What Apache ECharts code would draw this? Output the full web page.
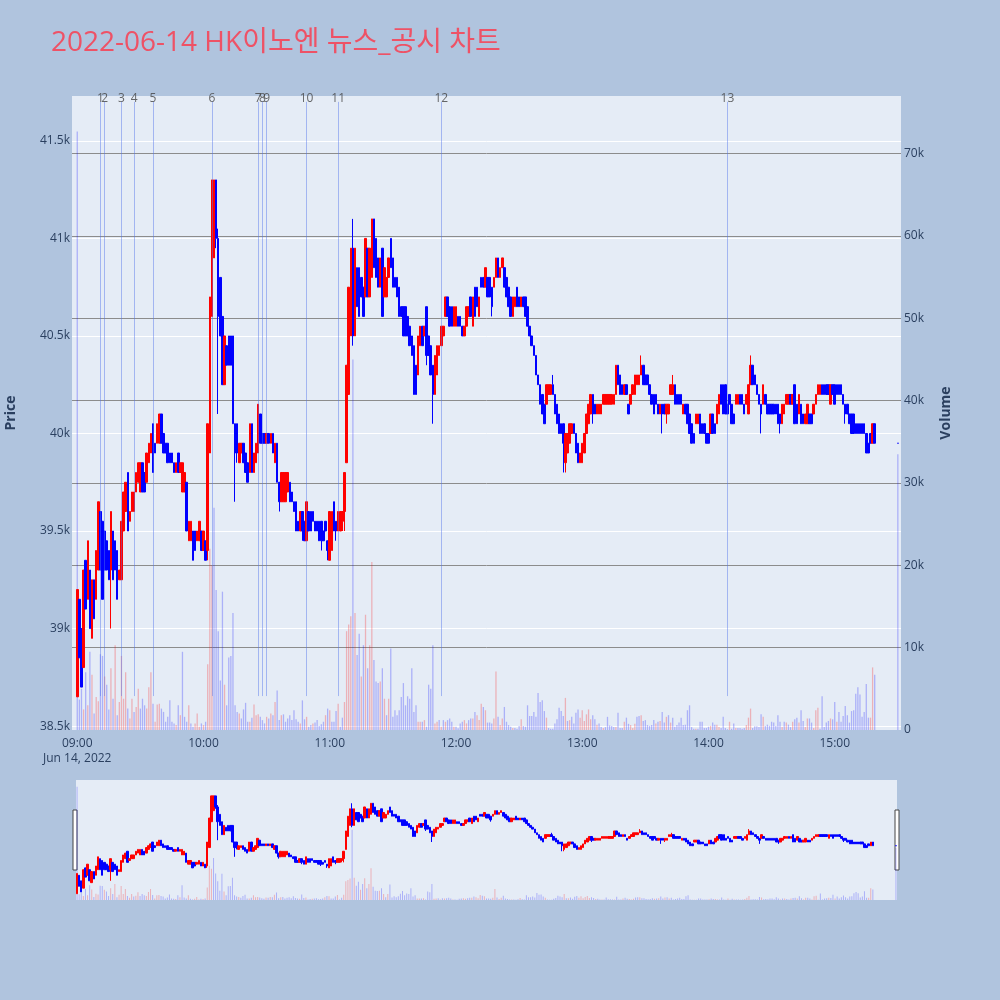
<!DOCTYPE html>
<html>
<head>
<meta charset="utf-8">
<script src="https://cdn.jsdelivr.net/npm/echarts@6/dist/echarts.min.js"></script>
<style>
  html, body { margin: 0; padding: 0; background: #b0c4de; }
  #chart { width: 1000px; height: 1000px; }
</style>
</head>
<body>
<div id="chart"></div>
<script>
const titleText = "2022-06-14 HK이노엔 뉴스_공시 차트";
const hourLabels = ["09:00", "10:00", "11:00", "12:00", "13:00", "14:00", "15:00"];
const dateLabel = "Jun 14, 2022";

// 1-minute candles from 09:00 to 15:19
const opens = [
  38650,39150,39000,38800,39350,39150,39300,38950,39250,39150, 39300,39600,39550,39500,39450,39400,39300,39500,39450,39400,
  39250,39250,39500,39600,39800,39550,39600,39600,39700,39750, 39700,39850,39800,39750,39850,39900,40050,39950,39950,39950,
  40100,40000,39950,39950,39900,39900,39850,39800,39900,39800, 39700,39700,39750,39450,39450,39500,39500,39450,39450,39500,
  39400,39450,39400,39900,40600,40900,41300,41000,40800,40600, 40250,40450,40500,40500,40500,40050,40050,39850,39900,39950,
  39900,39850,39800,40050,39800,39850,39900,40100,40000,40000, 39950,40000,39950,40000,39850,39950,39750,39650,39650,39650,
  39700,39750,39700,39650,39650,39550,39500,39600,39550,39450, 39600,39600,39600,39550,39550,39550,39550,39500,39550,39450,
  39350,39400,39650,39550,39500,39500,39550,39600,39850,40200, 40500,40950,40500,40850,40850,40800,40750,40700,40950,40700,
  40800,41100,41000,40900,40750,40950,40700,40700,40800,41000, 40900,40800,40800,40750,40650,40650,40650,40600,40550,40500,
  40450,40350,40300,40450,40550,40500,40650,40500,40450,40350, 40200,40300,40400,40450,40500,40600,40700,40650,40650,40550,
  40550,40600,40600,40550,40500,40550,40600,40700,40550,40750, 40750,40600,40800,40800,40750,40800,40800,40750,40750,40800,
  40900,40800,40850,40850,40800,40750,40700,40600,40650,40750, 40700,40650,40700,40700,40650,40550,40500,40450,40400,40300,
  40250,40200,40150,40150,40200,40200,40250,40200,40150,40100, 40050,40050,39850,39900,39950,40000,40050,40000,39950,39850,
  39850,39900,40000,40050,40100,40200,40150,40100,40100,40100, 40150,40150,40150,40150,40150,40150,40200,40350,40300,40250,
  40200,40250,40150,40150,40200,40200,40250,40250,40300,40350, 40300,40300,40250,40200,40200,40200,40150,40100,40150,40150,
  40100,40100,40200,40200,40250,40200,40200,40200,40100,40150, 40150,40100,40050,40000,40050,40050,40100,40050,40050,40000,
  40000,40000,40100,40050,40050,40100,40250,40250,40250,40150, 40200,40150,40100,40150,40150,40200,40200,40150,40150,40100,
  40250,40350,40300,40250,40200,40150,40150,40200,40150,40150, 40150,40150,40150,40150,40100,40050,40100,40150,40150,40200,
  40150,40250,40150,40100,40150,40100,40050,40050,40100,40100, 40100,40150,40200,40200,40250,40250,40250,40250,40150,40250,
  40250,40250,40250,40250,40200,40150,40150,40100,40100,40100, 40050,40050,40050,40050,40050,40000,39950,40000,39950,40050
];
const closes = [
  39200,38850,38700,39300,39100,39450,39000,39250,39050,39400, 39650,39300,39150,39300,39300,39250,39600,39250,39300,39150,
  39300,39550,39700,39750,39500,39600,39700,39700,39800,39850, 39850,39700,39700,39900,39950,40000,39800,39900,40050,40100,
  39950,39900,39900,39850,39850,39850,39800,39850,39800,39850, 39850,39800,39500,39550,39550,39350,39400,39500,39550,39400,
  39500,39350,40050,40700,41300,41300,41000,40600,40500,40250, 40500,40350,40350,40350,40050,39900,39900,39950,39950,39850,
  39800,39750,40050,39800,39900,39950,40150,39950,39950,39950, 40000,39950,40000,39900,39950,39750,39650,39800,39800,39800,
  39800,39650,39650,39600,39500,39500,39600,39500,39450,39650, 39500,39500,39550,39500,39500,39450,39450,39450,39500,39400,
  39600,39600,39500,39500,39600,39600,39600,39800,40350,40750, 40950,40500,40950,40650,40600,40700,40600,41000,40700,40950,
  41100,40850,40800,40750,40900,40600,40850,40800,40900,40850, 40750,40750,40700,40600,40600,40500,40500,40500,40450,40400,
  40200,40200,40500,40550,40450,40550,40400,40400,40300,40200, 40400,40450,40450,40550,40550,40700,40600,40550,40550,40650,
  40650,40550,40550,40500,40550,40650,40650,40600,40700,40600, 40650,40700,40750,40750,40850,40700,40700,40650,40800,40900,
  40800,40850,40900,40750,40700,40650,40600,40700,40700,40650, 40650,40700,40650,40600,40550,40500,40450,40400,40300,40250,
  40150,40100,40050,40250,40250,40250,40200,40100,40050,40000, 40000,39950,40000,40000,40050,40050,40000,39900,39850,39900,
  39950,40000,40100,40150,40200,40100,40100,40150,40150,40150, 40200,40200,40200,40200,40200,40200,40350,40250,40200,40200,
  40250,40200,40100,40200,40250,40300,40300,40300,40350,40250, 40250,40250,40200,40150,40100,40150,40100,40150,40100,40100,
  40150,40150,40250,40250,40150,40150,40150,40150,40150,40100, 40050,40000,39950,39950,40100,40100,40000,40000,40000,39950,
  39950,40100,40000,40000,40150,40200,40150,40100,40100,40100, 40150,40050,40050,40200,40200,40150,40150,40100,40200,40250,
  40350,40250,40250,40200,40150,40100,40250,40150,40100,40100, 40100,40100,40100,40050,40050,40150,40150,40200,40200,40150,
  40200,40050,40050,40200,40050,40050,40100,40150,40050,40050, 40150,40200,40250,40250,40200,40200,40200,40200,40250,40200,
  40150,40200,40200,40200,40150,40100,40100,40050,40000,40000, 40000,40000,40000,40000,40000,39900,39900,39950,40050,39950
];
const lows = [
  38650,38850,38700,38800,39100,39150,39000,38950,39050,39150, 39300,39300,39150,39300,39300,39250,39000,39250,39300,39150,
  39250,39250,39500,39600,39500,39550,39600,39600,39700,39750, 39700,39700,39700,39750,39850,39900,39800,39900,39950,39950,
  39950,39900,39900,39850,39850,39850,39800,39800,39800,39800, 39700,39700,39500,39450,39450,39350,39400,39450,39450,39400,
  39400,39350,39350,39900,40600,40900,40950,40100,40500,40250, 40250,40350,40350,40350,40050,39650,39850,39850,39900,39850,
  39800,39750,39800,39800,39800,39850,39900,39950,39950,39950, 39950,39950,39950,39900,39850,39750,39600,39650,39650,39650,
  39700,39650,39650,39600,39500,39500,39500,39450,39450,39450, 39500,39500,39550,39500,39500,39450,39400,39450,39500,39350,
  39350,39400,39500,39450,39500,39500,39500,39500,39850,40200, 40500,40450,40500,40650,40600,40700,40600,40700,40700,40700,
  40800,40850,40800,40750,40750,40600,40700,40700,40800,40850, 40750,40750,40700,40600,40600,40500,40500,40500,40450,40400,
  40200,40200,40300,40450,40450,40500,40350,40400,40300,40050, 40200,40300,40400,40450,40500,40600,40600,40550,40550,40550,
  40550,40550,40550,40500,40500,40550,40600,40600,40550,40600, 40650,40600,40750,40750,40750,40700,40700,40600,40750,40800,
  40800,40800,40850,40750,40700,40650,40600,40600,40650,40650, 40650,40650,40650,40600,40550,40500,40450,40400,40300,40250,
  40150,40100,40050,40150,40200,40200,40200,40100,40050,40000, 40000,39800,39800,39900,39950,40000,40000,39900,39850,39850,
  39850,39900,40000,40050,40100,40050,40100,40100,40100,40100, 40150,40150,40150,40150,40150,40150,40200,40250,40200,40200,
  40200,40200,40100,40150,40200,40200,40250,40250,40300,40250, 40250,40250,40200,40150,40100,40150,40100,40100,40000,40100,
  40050,40100,40200,40200,40150,40150,40150,40150,40100,40100, 40050,40000,39950,39950,40050,40050,40000,40000,40000,39950,
  39950,40000,40000,40000,40050,40100,40150,40100,40100,40100, 40150,40050,40050,40150,40150,40150,40150,40100,40150,40100,
  40250,40250,40250,40200,40150,40000,40150,40150,40100,40100, 40100,40100,40100,40050,40000,40050,40100,40150,40150,40150,
  40150,40050,40050,40100,40050,40050,40050,40050,40050,40050, 40100,40150,40200,40200,40200,40200,40200,40200,40150,40200,
  40150,40200,40200,40200,40150,40050,40100,40050,40000,40000, 40000,40000,40000,40000,40000,39900,39900,39950,39950,39950
];
const highs = [
  39200,39150,39000,39300,39350,39450,39300,39250,39250,39400, 39650,39600,39550,39500,39450,39400,39600,39500,39450,39400,
  39300,39550,39700,39750,39800,39600,39700,39700,39800,39850, 39850,39850,39800,39900,39950,40000,40050,39950,40050,40100,
  40100,40000,39950,39950,39900,39900,39850,39850,39900,39850, 39850,39800,39750,39550,39550,39500,39500,39500,39550,39500,
  39500,39450,40050,40700,41300,41300,41300,41050,40800,40600, 40500,40450,40500,40500,40500,40050,40050,39950,39950,39950,
  39900,39850,40050,40050,39900,39950,40150,40100,40000,40000, 40000,40000,40000,40000,39950,39950,39750,39800,39800,39800,
  39800,39750,39700,39650,39650,39550,39600,39600,39550,39650, 39600,39600,39600,39550,39550,39550,39550,39500,39550,39450,
  39600,39600,39650,39550,39600,39600,39600,39800,40350,40750, 40950,41100,40950,40850,40850,40800,40750,41000,40950,40950,
  41100,41100,41000,40900,40900,40950,40850,40800,40900,41000, 40900,40800,40800,40750,40650,40650,40650,40600,40550,40500,
  40450,40350,40500,40550,40550,40550,40650,40500,40450,40350, 40400,40450,40450,40550,40550,40700,40700,40650,40650,40650,
  40650,40600,40600,40550,40550,40650,40650,40700,40700,40750, 40750,40700,40800,40800,40850,40800,40800,40750,40800,40900,
  40900,40850,40900,40850,40800,40750,40700,40700,40700,40750, 40700,40700,40700,40700,40650,40550,40500,40450,40400,40300,
  40250,40200,40150,40250,40250,40250,40300,40200,40150,40100, 40050,40050,40000,40000,40050,40050,40050,40000,39950,39900,
  39950,40000,40100,40150,40200,40200,40150,40150,40150,40150, 40200,40200,40200,40200,40200,40200,40350,40350,40300,40250,
  40250,40250,40150,40200,40250,40300,40300,40300,40400,40350, 40300,40300,40250,40200,40200,40200,40150,40150,40150,40150,
  40150,40150,40250,40300,40250,40200,40200,40200,40150,40150, 40150,40100,40050,40000,40100,40100,40100,40050,40050,40000,
  40000,40100,40100,40050,40150,40200,40250,40250,40250,40150, 40200,40150,40100,40200,40200,40200,40200,40150,40200,40250,
  40400,40350,40300,40250,40200,40150,40250,40200,40150,40150, 40150,40150,40150,40150,40100,40150,40150,40200,40200,40200,
  40200,40250,40150,40200,40150,40100,40100,40150,40100,40100, 40150,40200,40250,40250,40250,40250,40250,40250,40250,40250,
  40250,40250,40250,40250,40200,40150,40150,40100,40100,40100, 40050,40050,40050,40050,40050,40000,39950,40000,40050,40050
];
const volumes = [
  72700,3700,5000,2500,7000,3000,9500,6700,2000,4000, 3500,9200,9000,6500,5500,2500,7500,3800,10300,1800,
  3400,9000,3800,7000,2600,1400,3800,2200,2800,5000, 2600,3800,3000,2600,5200,7000,3200,1000,3100,3200,
  2600,2200,1000,1600,3600,1000,800,600,3000,1800, 9500,1600,1000,3000,800,400,800,2000,400,800,
  600,1000,8000,22000,20000,27000,17000,12000,6000,16800, 5500,3000,8800,9000,14200,3000,2200,2000,1400,2500,
  3300,1000,1000,1500,3100,1800,1900,1600,1200,800, 1600,1400,2000,1800,3400,4800,1200,1800,1900,1000,
  1400,1800,1200,2400,1300,1000,800,3600,1300,1600, 400,600,800,900,1200,500,700,1000,1800,2600,
  2400,1000,1000,2300,3200,400,1500,3400,12000,12800, 13800,45000,14200,9100,11700,6500,10300,14000,7500,10300,
  20400,8500,5900,5700,5900,7500,3800,1800,3800,9900, 1600,2400,1800,2400,4000,5700,3000,4100,3800,7500,
  2200,3000,1000,1000,1000,1200,400,5500,5000,10300, 800,1000,1200,400,1200,1000,1200,1400,1000,400,
  400,200,800,1000,1200,800,1200,1400,1400,2200, 1800,1200,3200,2800,2400,900,900,800,1400,7100,
  1600,600,1400,2800,1000,600,400,250,250,150, 500,1300,500,400,3000,1700,1700,2200,1600,4500,
  3400,3600,2300,1500,250,150,150,800,1300,2700, 2300,1700,3900,1100,1200,1600,800,2100,2500,1500,
  2400,1100,1900,2500,1300,1800,1300,650,800,350, 250,350,1600,550,500,350,350,2100,250,250,
  1000,1500,750,600,250,750,1600,1700,1800,1100, 1200,600,500,600,1200,800,1000,1100,2200,900,
  1600,1800,900,1500,400,600,900,1500,600,650, 2400,3000,350,150,150,150,1000,1000,250,250,
  400,500,900,650,650,350,250,1600,250,100, 1000,150,800,250,250,250,150,250,600,1500,
  2600,250,450,450,350,1900,1600,500,650,500, 1000,900,500,1800,1000,350,1000,900,650,350,
  1000,1300,1500,900,2400,1100,350,1400,1400,900, 250,2400,2700,150,4100,350,900,1100,1400,1300,
  3400,1000,2200,1000,1700,2900,1800,900,2300,2400, 4400,5200,4300,1600,2200,5600,1500,1500,7600,6700
];

// closing auction
const auctionTime = "15:30";
const auctionOHLC = [39950, 39950, 39950, 39950]; // open, close, low, high
const auctionVolume = 33500;

// news / disclosure markers
const newsTimes = ["09:11", "09:13", "09:21", "09:27", "09:36", "10:04", "10:26", "10:28", "10:30", "10:49", "11:04", "11:53", "14:09"];
const newsLabels = ["1", "2", "3", "4", "5", "6", "7", "8", "9", "10", "11", "12", "13"];

const UP = "#ff0000";
const DOWN = "#0000ff";
const UP_VOL = "rgba(255,0,0,0.25)";
const DOWN_VOL = "rgba(0,0,255,0.25)";
const FONT = "'Open Sans', 'Noto Sans CJK KR', sans-serif";

const minuteLabel = (m) => {
  const t = 9 * 60 + m;
  return String(Math.floor(t / 60)).padStart(2, "0") + ":" + String(t % 60).padStart(2, "0");
};

const candleByTime = {};
const volumeByTime = {};
let prevClose = null;
opens.forEach((o, i) => {
  const t = minuteLabel(i);
  candleByTime[t] = [o, closes[i], lows[i], highs[i]];
  const up = prevClose !== null && closes[i] > prevClose;
  volumeByTime[t] = { value: volumes[i], itemStyle: { color: up ? UP_VOL : DOWN_VOL } };
  prevClose = closes[i];
});
candleByTime[auctionTime] = auctionOHLC;
volumeByTime[auctionTime] = {
  value: auctionVolume,
  itemStyle: { color: auctionOHLC[1] > prevClose ? UP_VOL : DOWN_VOL },
};

const mainCats = [];
for (let m = -2; m <= 391; m++) mainCats.push(minuteLabel(m));
const miniCats = [];
for (let m = 0; m <= 390; m++) miniCats.push(minuteLabel(m));

const candleStyle = {
  color: UP,
  color0: DOWN,
  borderColor: UP,
  borderColor0: DOWN,
  borderWidth: 1,
};

const chart = echarts.init(document.getElementById("chart"));

const option = {
  animation: false,
  backgroundColor: "#b0c4de",
  textStyle: { fontFamily: FONT },
  title: {
    text: titleText,
    left: 46,
    top: 24,
    textStyle: { fontFamily: FONT, fontSize: 28, fontWeight: "normal", color: "#ee5266" },
  },
  grid: [
    {
      left: 72, top: 96, width: 829, height: 634,
      containLabel: false, outerBoundsMode: "none",
      show: true, backgroundColor: "#e5ecf6", borderWidth: 0,
    },
    {
      left: 76, top: 780, width: 821, height: 120,
      containLabel: false, outerBoundsMode: "none",
      show: true, backgroundColor: "#e5ecf6", borderWidth: 0,
    },
  ],
  xAxis: [
    {
      type: "category",
      gridIndex: 0,
      data: mainCats,
      boundaryGap: true,
      axisLine: { show: false },
      axisTick: { show: false },
      splitLine: { show: false },
      axisLabel: {
        interval: (idx, val) => hourLabels.includes(val),
        formatter: (val) => (val === hourLabels[0] ? val + "\n" + dateLabel : val),
        color: "#2a3f5f",
        fontSize: 12,
        lineHeight: 15,
        margin: 6,
        hideOverlap: false,
      },
    },
    {
      type: "category",
      gridIndex: 1,
      data: miniCats,
      boundaryGap: true,
      show: false,
    },
  ],
  yAxis: [
    {
      type: "value",
      gridIndex: 0,
      position: "left",
      min: 38480,
      max: 41730,
      splitNumber: 6,
      name: "Price",
      nameLocation: "middle",
      nameRotate: 90,
      nameGap: 54,
      nameTextStyle: { fontSize: 14, fontWeight: "bold", color: "#2a3f5f" },
      axisLine: { show: false },
      axisTick: { show: false },
      axisLabel: {
        color: "#2a3f5f",
        fontSize: 12,
        margin: 2,
        formatter: (v) => (v % 500 === 0 ? v / 1000 + "k" : ""),
      },
      splitLine: { lineStyle: { color: "#ffffff", width: 1 }, showMinLine: false, showMaxLine: false },
    },
    {
      type: "value",
      gridIndex: 0,
      position: "right",
      min: 0,
      max: 77000,
      interval: 10000,
      name: "Volume",
      nameLocation: "middle",
      nameRotate: 90,
      nameGap: 38,
      nameTextStyle: { fontSize: 14, fontWeight: "bold", color: "#2a3f5f" },
      axisLine: { show: false },
      axisTick: { show: false },
      axisLabel: {
        color: "#2a3f5f",
        fontSize: 12,
        margin: 3,
        formatter: (v) => (v === 0 ? "0" : v % 10000 === 0 ? v / 1000 + "k" : ""),
      },
      splitLine: { lineStyle: { color: "#8c8c8c", width: 1 }, showMinLine: false, showMaxLine: false },
    },
    { type: "value", gridIndex: 1, min: 38480, max: 41730, show: false, splitLine: { show: false } },
    { type: "value", gridIndex: 1, min: 0, max: 77000, show: false, splitLine: { show: false } },
  ],
  series: [
    {
      name: "news",
      type: "scatter",
      xAxisIndex: 0,
      yAxisIndex: 0,
      silent: true,
      clip: false,
      symbolSize: 1,
      itemStyle: { color: "rgba(0,0,0,0)" },
      data: newsTimes.map((t) => [t, 41718]),
      label: {
        show: true,
        position: "inside",
        formatter: (p) => newsLabels[p.dataIndex],
        color: "#444",
        fontSize: 12,
      },
      markLine: {
        silent: true,
        symbol: "none",
        label: { show: false },
        lineStyle: { color: "rgba(80,115,235,0.45)", width: 1, type: "solid" },
        data: newsTimes.map((t) => [{ coord: [t, 38654] }, { coord: [t, 41700] }]),
      },
    },
    {
      name: "price",
      type: "candlestick",
      xAxisIndex: 0,
      yAxisIndex: 0,
      barWidth: 2,
      itemStyle: candleStyle,
      data: mainCats.map((t) => candleByTime[t] || "-"),
    },
    {
      name: "volume",
      type: "bar",
      xAxisIndex: 0,
      yAxisIndex: 1,
      barWidth: 1.3,
      data: mainCats.map((t) => volumeByTime[t] || "-"),
    },
    {
      name: "price-mini",
      type: "candlestick",
      xAxisIndex: 1,
      yAxisIndex: 2,
      barWidth: 2,
      itemStyle: candleStyle,
      data: miniCats.map((t) => candleByTime[t] || "-"),
    },
    {
      name: "volume-mini",
      type: "bar",
      xAxisIndex: 1,
      yAxisIndex: 3,
      barWidth: 1,
      data: miniCats.map((t) => volumeByTime[t] || "-"),
    },
  ],
  graphic: [
    { type: "rect", shape: { x: 73, y: 810, width: 4, height: 60 }, style: { fill: "#fff", stroke: "#444", lineWidth: 1 } },
    { type: "rect", shape: { x: 895, y: 810, width: 4, height: 60 }, style: { fill: "#fff", stroke: "#444", lineWidth: 1 } },
  ],
};

chart.setOption(option);
</script>
</body>
</html>
